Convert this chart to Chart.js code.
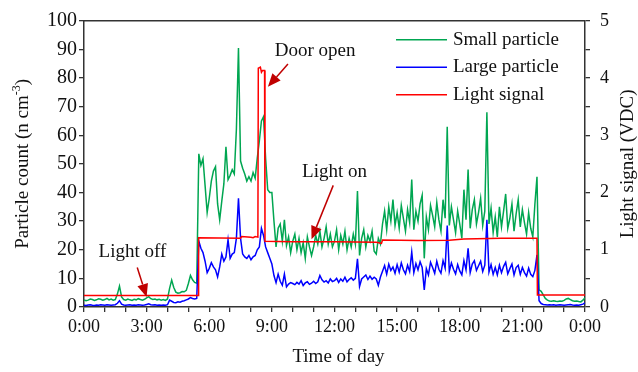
<!DOCTYPE html>
<html>
<head>
<meta charset="utf-8">
<script src="https://cdn.jsdelivr.net/npm/chart.js@4"></script>
<style>
  html, body { margin: 0; padding: 0; background: #fff; }
  #wrap { width: 638px; height: 372px; }
</style>
</head>
<body>
<div id="wrap"><canvas id="chart" width="638" height="372"></canvas></div>
<script>
const SERIF = '"Liberation Serif", "Times New Roman", serif';
const AXIS = "#333333";
const INK = "#111111";

// particle counters were read every 0.1 h (6 min), from 0:00 to 24:00
const sampleStep = 0.1;

// small particle count (n cm-3)
const smallParticle = [
  2.5, 2.2, 2.4, 2.8, 2.6, 2.3, 2.5, 2.9, 2.7, 2.4,
  2.6, 3.0, 2.5, 2.8, 2.4, 2.6, 4.5, 7.3, 3.5, 2.6,
  2.4, 2.8, 2.5, 2.3, 2.7, 2.5, 2.9, 2.6, 2.4, 2.7,
  3.2, 3.6, 2.9, 2.6, 2.8, 2.5, 2.7, 2.4, 2.6, 2.3,
  2.8, 6.5, 9.4, 6.8, 5.2, 4.8, 5.0, 5.4, 5.3, 5.8,
  8.2, 11.0, 9.5, 8.6, 8.3, 53.5, 49.5, 51.8, 42.5, 33.0,
  38.0, 44.0, 47.5, 49.0, 36.0, 30.5, 37.0, 43.0, 56.0, 44.5,
  46.0, 48.0, 46.5, 62.0, 90.5, 51.0, 48.5, 46.5, 44.0, 45.5,
  44.0, 47.0, 45.0, 52.0, 58.0, 65.0, 66.5, 52.0, 41.0, 40.0,
  40.0, 30.0, 21.0, 27.5, 29.0, 23.0, 30.5, 21.5, 24.5, 19.0,
  23.0, 25.5, 20.0, 24.0, 19.0, 22.5, 17.0, 24.5, 21.0, 18.0,
  21.0, 25.0, 22.0, 26.5, 21.0, 24.0, 28.0, 22.0, 25.5, 21.0,
  23.0, 27.0, 20.0, 25.0, 22.0, 26.5, 20.0, 24.0, 21.0, 25.5,
  22.0, 40.5, 18.0, 24.0, 27.0, 21.0, 25.0, 23.0, 26.5, 19.5,
  18.5, 24.0, 22.0, 29.0, 33.5, 27.0, 35.0, 30.0, 37.5, 28.5,
  33.0, 27.5, 35.5, 31.0, 26.5, 34.0, 29.5, 44.5, 27.0, 33.5,
  30.0, 36.0, 39.0, 17.0, 31.5, 27.0, 35.5, 32.0, 28.0, 36.5,
  30.5, 26.5, 37.5, 31.0, 63.0, 28.5, 35.0, 30.5, 26.0, 33.5,
  29.0, 24.0, 41.0, 30.5, 48.0, 27.5, 34.0, 37.5, 29.0, 33.0,
  38.0, 28.5, 33.5, 68.0, 29.0, 34.5, 26.0, 31.5, 24.5, 35.0,
  28.0, 33.5, 39.5, 27.5, 31.0, 36.0, 26.5, 32.5, 37.5, 28.0,
  34.0, 29.5, 25.5, 33.0, 27.5, 24.5, 36.0, 45.5, 6.0, 5.5,
  4.2, 3.0, 2.4, 2.1, 2.0, 2.2, 2.0, 1.9, 2.1, 2.0,
  2.3, 2.8, 3.0, 2.6, 2.2, 2.0, 2.1, 1.9, 1.8, 2.4,
  3.2
];

// large particle count (n cm-3)
const largeParticle = [
  0.6, 0.5, 0.7, 0.8, 0.6, 0.5, 0.7, 0.6, 0.8, 0.7,
  0.6, 0.8, 0.7, 0.6, 0.7, 0.8, 1.3, 2.2, 1.0, 0.7,
  0.6, 0.7, 0.8, 0.6, 0.7, 0.6, 0.8, 0.7, 0.6, 0.7,
  0.9, 1.1, 0.8, 0.7, 0.8, 0.6, 0.7, 0.6, 0.7, 0.6,
  0.8, 2.4, 2.0, 1.6, 1.5, 1.8, 1.7, 2.0, 2.2, 2.5,
  2.8, 3.3, 3.0, 2.8, 3.0, 23.0, 20.5, 19.0, 16.0, 12.0,
  13.5, 15.5, 14.0, 13.0, 10.5, 14.0, 18.5, 16.0, 17.5, 23.5,
  17.0, 18.5, 19.0, 24.0, 38.0, 24.0, 18.5, 17.5, 17.0, 18.0,
  16.5, 17.5, 18.0, 20.0, 21.0, 27.5, 25.0, 21.0, 19.0, 17.0,
  15.0, 11.0, 8.5, 11.5, 9.0, 7.6, 11.5, 7.0, 8.0, 8.5,
  8.2, 7.8, 8.6, 8.0, 9.2, 7.5, 8.4, 8.8, 7.9, 8.3,
  9.0, 8.2, 8.8, 11.0, 9.5, 8.7, 9.2, 8.4, 9.8, 8.9,
  9.2, 10.0, 8.6, 9.8, 9.0, 10.4, 8.8, 9.6, 10.2, 9.4,
  10.0, 16.8, 7.2, 9.8, 10.5, 11.2, 9.6, 10.8, 9.7, 10.4,
  9.8, 7.6, 10.5, 12.5, 14.5, 11.5, 15.0, 12.8, 14.0, 11.8,
  14.8, 12.2, 15.4, 13.0, 11.6, 14.6, 12.4, 19.2, 12.0, 15.2,
  13.0, 15.8, 13.8, 6.0, 13.4, 11.2, 15.6, 13.8, 11.8, 16.0,
  13.2, 11.8, 16.2, 13.6, 28.5, 12.4, 15.4, 13.2, 11.6, 14.8,
  12.6, 11.2, 16.2, 13.0, 20.5, 12.0, 15.0, 16.2, 12.8, 14.4,
  16.0, 12.4, 14.6, 30.5, 12.2, 14.8, 11.4, 13.8, 11.2, 14.6,
  12.0, 14.2, 15.6, 11.6, 13.4, 15.0, 11.2, 13.8, 14.6, 11.4,
  13.8, 12.0, 10.8, 13.6, 11.4, 10.6, 12.8, 18.2, 2.2, 1.2,
  0.9, 0.8, 0.7, 0.8, 0.7, 0.8, 0.6, 0.7, 0.8, 0.7,
  0.6, 0.7, 0.8, 0.9, 0.7, 0.6, 0.7, 0.6, 0.8, 1.0,
  1.4
];

// light signal (VDC), a step trace: hour of each change and its value
const lightHours = [0, 5.47, 5.49, 7.5, 7.55, 8.0, 8.1, 8.2, 8.33, 8.35, 8.45, 8.5, 8.55,
  8.65, 8.67, 10, 12, 14, 14.25, 14.3, 16, 17.5, 18.2, 20, 21.7, 21.72, 24];
const lightSignal = [0.2, 0.2, 1.21, 1.2, 1.23, 1.22, 1.21, 1.23, 1.22, 4.17, 4.19, 4.1, 4.13,
  4.13, 1.15, 1.14, 1.14, 1.13, 1.11, 1.17, 1.16, 1.165, 1.19, 1.2, 1.2, 0.21, 0.21];

const seriesNames = ["Small particle", "Large particle", "Light signal"];
const seriesColors = ["#00a651", "#0000ff", "#ff0000"];

const xTickLabels = { 0: "0:00", 3: "3:00", 6: "6:00", 9: "9:00", 12: "12:00",
  15: "15:00", 18: "18:00", 21: "21:00", 24: "0:00" };

// callouts in data units (hour, particle count)
const notes = [
  { text: "Door open", at: [11.07, 89.6], from: [9.77, 84.9], to: [8.81, 77] },
  { text: "Light on", at: [12.0, 47.3], from: [11.94, 42.5], to: [10.9, 23.7] },
  { text: "Light off", at: [2.32, 19.3], from: [2.55, 13.8], to: [3.0, 3.5] },
];

const toPoints = (values) => values.map((v, i) => ({ x: i * sampleStep, y: v }));

const font = (size) => `${size}px ${SERIF}`;

const overlay = {
  id: "overlay",
  afterDraw(chart) {
    const { ctx, chartArea: a, scales } = chart;
    const x = scales.x, y = scales.y;
    ctx.save();

    // top edge of the frame
    ctx.strokeStyle = AXIS;
    ctx.lineWidth = 1.5;
    ctx.beginPath();
    ctx.moveTo(a.left, a.top);
    ctx.lineTo(a.right, a.top);
    ctx.stroke();

    // legend
    ctx.font = font(19);
    ctx.textBaseline = "middle";
    ctx.textAlign = "left";
    seriesNames.forEach((name, i) => {
      const ly = a.top + 19 + i * 27.5;
      ctx.strokeStyle = seriesColors[i];
      ctx.lineWidth = 1.5;
      ctx.beginPath();
      ctx.moveTo(a.right - 189, ly);
      ctx.lineTo(a.right - 138, ly);
      ctx.stroke();
      ctx.fillStyle = INK;
      ctx.fillText(name, a.right - 132, ly);
    });

    // callouts
    notes.forEach((n) => {
      ctx.fillStyle = INK;
      ctx.textAlign = "center";
      ctx.fillText(n.text, x.getPixelForValue(n.at[0]), y.getPixelForValue(n.at[1]));
      const x0 = x.getPixelForValue(n.from[0]), y0 = y.getPixelForValue(n.from[1]);
      const x1 = x.getPixelForValue(n.to[0]), y1 = y.getPixelForValue(n.to[1]);
      const ang = Math.atan2(y1 - y0, x1 - x0);
      const len = 13, half = 5.5;
      const bx = x1 - len * Math.cos(ang), by = y1 - len * Math.sin(ang);
      ctx.strokeStyle = "#c00000";
      ctx.fillStyle = "#c00000";
      ctx.lineWidth = 1.5;
      ctx.beginPath();
      ctx.moveTo(x0, y0);
      ctx.lineTo(bx, by);
      ctx.stroke();
      ctx.beginPath();
      ctx.moveTo(x1, y1);
      ctx.lineTo(bx + half * Math.sin(ang), by - half * Math.cos(ang));
      ctx.lineTo(bx - half * Math.sin(ang), by + half * Math.cos(ang));
      ctx.closePath();
      ctx.fill();
    });

    // axis titles
    const midY = (a.top + a.bottom) / 2;
    ctx.fillStyle = INK;
    ctx.textBaseline = "middle";
    ctx.font = font(19);
    ctx.textAlign = "center";
    ctx.fillText("Time of day", (a.left + a.right) / 2 + 4, 357);

    // left title with superscript
    ctx.save();
    ctx.translate(23, midY);
    ctx.rotate(-Math.PI / 2);
    ctx.textAlign = "left";
    const main = "Particle count (n cm", sup = "-3", tail = ")";
    ctx.font = font(19);
    const w1 = ctx.measureText(main).width, w3 = ctx.measureText(tail).width;
    ctx.font = font(12);
    const w2 = ctx.measureText(sup).width;
    let sx = -(w1 + w2 + w3) / 2;
    ctx.font = font(19);
    ctx.fillText(main, sx, 0);
    sx += w1;
    ctx.font = font(12);
    ctx.fillText(sup, sx, -6);
    sx += w2;
    ctx.font = font(19);
    ctx.fillText(tail, sx, 0);
    ctx.restore();

    ctx.save();
    ctx.translate(628, midY);
    ctx.rotate(-Math.PI / 2);
    ctx.textAlign = "center";
    ctx.fillText("Light signal (VDC)", 0, 0);
    ctx.restore();

    ctx.restore();
  },
};

const axisGrid = { drawOnChartArea: false, tickLength: 5, color: AXIS, lineWidth: 1.3 };
const axisBorder = { color: AXIS, width: 1.5 };

new Chart(document.getElementById("chart"), {
  type: "line",
  data: {
    datasets: [
      { label: seriesNames[0], data: toPoints(smallParticle), borderColor: seriesColors[0],
        yAxisID: "y", order: 2 },
      { label: seriesNames[1], data: toPoints(largeParticle), borderColor: seriesColors[1],
        yAxisID: "y", order: 1 },
      { label: seriesNames[2], data: lightHours.map((h, i) => ({ x: h, y: lightSignal[i] })),
        borderColor: seriesColors[2], yAxisID: "y2", order: 0 },
    ],
  },
  options: {
    responsive: false,
    animation: false,
    devicePixelRatio: 1,
    elements: { point: { radius: 0 }, line: { borderWidth: 1.5, tension: 0 } },
    layout: { padding: { top: 16 } },
    plugins: { legend: { display: false }, tooltip: { enabled: false } },
    scales: {
      x: {
        type: "linear", min: 0, max: 24,
        afterFit: (s) => { s.height = 65; },
        ticks: {
          stepSize: 1, autoSkip: false, maxRotation: 0, maxTicksLimit: 30,
          callback: (v) => xTickLabels[v] ?? "",
          font: { family: SERIF, size: 18 }, color: INK, padding: 4,
        },
        grid: axisGrid, border: axisBorder,
      },
      y: {
        position: "left", min: 0, max: 100,
        afterFit: (s) => { s.width = 84; },
        ticks: { stepSize: 10, font: { family: SERIF, size: 20 }, color: INK, padding: 2 },
        grid: axisGrid, border: axisBorder,
      },
      y2: {
        position: "right", min: 0, max: 5,
        afterFit: (s) => { s.width = 53; },
        ticks: {
          stepSize: 0.5,
          callback: (v) => (Number.isInteger(v) ? String(v) : ""),
          font: { family: SERIF, size: 18 }, color: INK, padding: 10,
        },
        grid: axisGrid, border: axisBorder,
      },
    },
  },
  plugins: [overlay],
});
</script>
</body>
</html>
